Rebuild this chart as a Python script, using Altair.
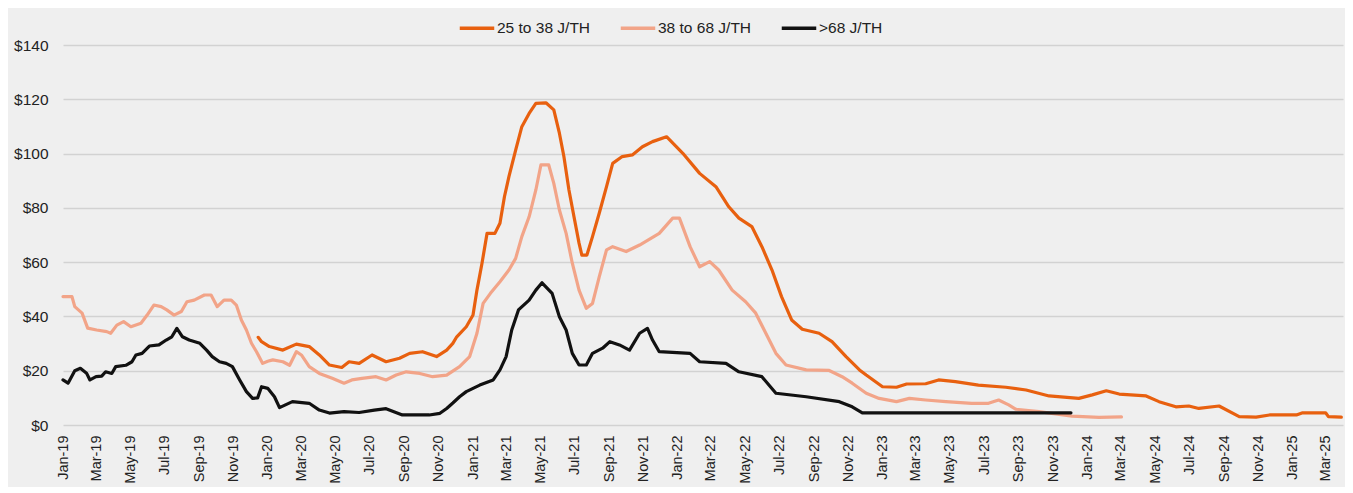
import altair as alt
import pandas as pd

series_names = ["25 to 38 J/TH", "38 to 68 J/TH", ">68 J/TH"]
series_colors = ["#E8600F", "#F2A488", "#111111"]

orange_dates = [
    "2019-12-15", "2019-12-21", "2020-01-04", "2020-01-28", "2020-02-21", "2020-03-15",
    "2020-04-02", "2020-04-20", "2020-05-12", "2020-05-25", "2020-06-12", "2020-07-05",
    "2020-07-30", "2020-08-23", "2020-09-10", "2020-10-03", "2020-10-28", "2020-11-15",
    "2020-11-26", "2020-12-03", "2020-12-20", "2021-01-01", "2021-01-08", "2021-01-17",
    "2021-01-26", "2021-02-09", "2021-02-18", "2021-02-26", "2021-03-06", "2021-03-18",
    "2021-03-29", "2021-04-11", "2021-04-23", "2021-05-11", "2021-05-25", "2021-06-04",
    "2021-06-12", "2021-06-21", "2021-06-30", "2021-07-09", "2021-07-14", "2021-07-23",
    "2021-08-02", "2021-08-14", "2021-08-27", "2021-09-07", "2021-09-24", "2021-10-12",
    "2021-10-30", "2021-11-17", "2021-12-12", "2022-01-10", "2022-02-09", "2022-03-10",
    "2022-04-02", "2022-04-20", "2022-05-13", "2022-05-31", "2022-06-18", "2022-07-05",
    "2022-07-23", "2022-08-11", "2022-09-10", "2022-10-03", "2022-10-28", "2022-11-21",
    "2022-12-03", "2023-01-01", "2023-01-26", "2023-02-13", "2023-03-19", "2023-04-11",
    "2023-05-11", "2023-06-21", "2023-08-09", "2023-09-14", "2023-10-25", "2023-12-17",
    "2024-01-10", "2024-02-04", "2024-02-27", "2024-04-15", "2024-05-08", "2024-06-07",
    "2024-06-30", "2024-07-18", "2024-08-23", "2024-09-28", "2024-10-28", "2024-11-21",
    "2025-01-08", "2025-01-19", "2025-03-01", "2025-03-06", "2025-03-29",
]
orange_values = [
    32.3, 30.7, 28.9, 27.6, 29.8, 28.9,
    25.8, 22.1, 21.2, 23.3, 22.7, 25.8,
    23.3, 24.6, 26.4, 27.0, 25.2, 27.6,
    30.1, 32.5, 36.2, 40.5, 49.7, 59.6,
    70.6, 70.6, 74.3, 84.1, 91.5, 101.3,
    109.9, 114.8, 118.5, 118.7, 116.1, 107.5,
    98.9, 86.6, 76.7, 67.0, 62.6, 62.6,
    69.4, 78.0, 87.8, 96.4, 98.9, 99.5,
    102.5, 104.4, 106.2, 100.1, 92.7, 87.8,
    80.4, 76.2, 73.1, 65.7, 57.1, 47.3,
    38.7, 35.3, 33.8, 30.7, 25.2, 20.3,
    18.4, 14.1, 13.9, 15.1, 15.2, 16.6,
    16.0, 14.7, 13.9, 12.9, 10.7, 9.8,
    11.1, 12.6, 11.4, 10.7, 8.6, 6.7,
    7.0, 6.1, 7.0, 3.1, 2.9, 3.7,
    3.7, 4.5, 4.5, 3.1, 2.9,
]

salmon_dates = [
    "2019-01-01", "2019-01-17", "2019-01-22", "2019-02-04", "2019-02-14", "2019-03-02",
    "2019-03-20", "2019-03-27", "2019-04-07", "2019-04-19", "2019-05-02", "2019-05-20",
    "2019-05-31", "2019-06-12", "2019-06-25", "2019-07-05", "2019-07-18", "2019-07-31",
    "2019-08-10", "2019-08-23", "2019-09-10", "2019-09-22", "2019-10-03", "2019-10-15",
    "2019-10-28", "2019-11-06", "2019-11-15", "2019-11-24", "2019-12-03", "2019-12-12",
    "2019-12-23", "2020-01-01", "2020-01-10", "2020-01-28", "2020-02-09", "2020-02-21",
    "2020-03-01", "2020-03-15", "2020-04-02", "2020-04-25", "2020-05-16", "2020-05-30",
    "2020-06-17", "2020-07-12", "2020-07-30", "2020-08-17", "2020-09-04", "2020-09-28",
    "2020-10-21", "2020-11-15", "2020-12-08", "2020-12-26", "2021-01-08", "2021-01-19",
    "2021-02-01", "2021-02-18", "2021-03-06", "2021-03-18", "2021-03-29", "2021-04-11",
    "2021-04-23", "2021-05-02", "2021-05-16", "2021-05-25", "2021-06-04", "2021-06-16",
    "2021-06-27", "2021-07-09", "2021-07-22", "2021-08-02", "2021-08-14", "2021-08-27",
    "2021-09-07", "2021-10-01", "2021-10-25", "2021-11-29", "2021-12-23", "2022-01-04",
    "2022-01-23", "2022-02-09", "2022-02-27", "2022-03-15", "2022-04-08", "2022-05-02",
    "2022-05-20", "2022-06-07", "2022-06-25", "2022-07-13", "2022-08-18", "2022-09-28",
    "2022-10-21", "2022-11-08", "2022-12-03", "2022-12-26", "2023-01-26", "2023-02-18",
    "2023-03-19", "2023-04-24", "2023-06-09", "2023-07-09", "2023-07-27", "2023-08-14",
    "2023-08-27", "2023-10-07", "2023-12-05", "2024-01-22", "2024-03-02",
]
salmon_values = [
    47.3, 47.3, 43.6, 41.2, 35.7, 35.0,
    34.4, 33.8, 36.8, 38.1, 36.2, 37.5,
    40.5, 44.2, 43.6, 42.4, 40.5, 41.8,
    45.4, 46.0, 47.9, 47.9, 43.6, 46.0,
    46.0, 44.2, 38.7, 35.0, 30.1, 27.0,
    22.7, 23.5, 24.0, 23.3, 22.0, 27.0,
    25.8, 21.5, 19.0, 17.2, 15.4, 16.6,
    17.2, 17.8, 16.6, 18.4, 19.6, 19.0,
    17.8, 18.4, 21.5, 25.2, 33.8, 44.8,
    48.5, 52.8, 57.1, 61.4, 69.4, 76.7,
    86.6, 95.8, 95.8, 89.0, 79.2, 70.6,
    59.6, 49.7, 43.0, 44.8, 54.6, 64.5,
    65.7, 63.9, 66.3, 70.6, 76.2, 76.2,
    65.7, 58.3, 60.2, 57.1, 49.7, 45.4,
    41.2, 33.8, 26.4, 22.1, 20.3, 20.1,
    17.8, 15.4, 11.7, 9.8, 8.6, 9.8,
    9.2, 8.6, 8.0, 8.0, 9.2, 7.4,
    5.8, 4.9, 3.3, 2.8, 3.0,
]

black_dates = [
    "2019-01-01", "2019-01-10", "2019-01-22", "2019-02-01", "2019-02-12", "2019-02-18",
    "2019-03-01", "2019-03-11", "2019-03-18", "2019-03-29", "2019-04-05", "2019-04-23",
    "2019-05-04", "2019-05-11", "2019-05-22", "2019-06-04", "2019-06-21", "2019-07-04",
    "2019-07-14", "2019-07-23", "2019-08-02", "2019-08-14", "2019-09-02", "2019-09-14",
    "2019-09-24", "2019-10-07", "2019-10-19", "2019-10-30", "2019-11-12", "2019-11-24",
    "2019-12-05", "2019-12-14", "2019-12-21", "2020-01-01", "2020-01-13", "2020-01-22",
    "2020-02-14", "2020-03-15", "2020-04-02", "2020-04-20", "2020-05-16", "2020-06-12",
    "2020-07-09", "2020-07-30", "2020-08-28", "2020-10-15", "2020-11-03", "2020-11-15",
    "2020-11-26", "2020-12-08", "2020-12-20", "2021-01-13", "2021-02-06", "2021-02-18",
    "2021-03-01", "2021-03-11", "2021-03-23", "2021-04-11", "2021-04-23", "2021-05-04",
    "2021-05-22", "2021-06-04", "2021-06-16", "2021-06-27", "2021-07-09", "2021-07-22",
    "2021-08-02", "2021-08-20", "2021-09-02", "2021-09-19", "2021-10-07", "2021-10-25",
    "2021-11-08", "2021-11-17", "2021-11-29", "2022-01-23", "2022-02-09", "2022-03-28",
    "2022-04-20", "2022-05-31", "2022-06-25", "2022-08-18", "2022-10-16", "2022-11-08",
    "2022-11-26", "2023-12-03",
]
black_values = [
    16.6, 15.4, 20.0, 20.9, 19.1, 16.6,
    17.8, 18.0, 19.6, 19.0, 21.5, 22.0,
    23.3, 25.8, 26.4, 29.1, 29.5, 31.3,
    32.5, 35.6, 32.5, 31.3, 30.1, 27.6,
    25.2, 23.3, 22.7, 21.5, 16.6, 12.3,
    9.8, 10.0, 14.1, 13.5, 10.4, 6.4,
    8.6, 8.0, 5.5, 4.4, 4.9, 4.6,
    5.5, 6.0, 3.7, 3.7, 4.3, 6.1,
    8.1, 10.4, 12.3, 14.7, 16.6, 20.3,
    25.2, 35.0, 42.4, 46.0, 49.7, 52.4,
    48.5, 39.9, 35.0, 26.4, 22.1, 22.1,
    26.4, 28.3, 30.7, 29.5, 27.6, 33.8,
    35.6, 31.3, 27.0, 26.4, 23.3, 22.7,
    19.6, 17.8, 11.7, 10.4, 8.6, 6.7,
    4.5, 4.5,
]

y_ticks = [0, 20, 40, 60, 80, 100, 120, 140]

frames = []
for name, dates, vals in [
    (series_names[0], orange_dates, orange_values),
    (series_names[1], salmon_dates, salmon_values),
    (series_names[2], black_dates, black_values),
]:
    frames.append(pd.DataFrame({"date": dates, "value": vals, "series": name}))
df = pd.concat(frames, ignore_index=True)

FONT = "Liberation Sans"

chart = (
    alt.Chart(df)
    .mark_line(strokeWidth=3.2, strokeJoin="round", strokeCap="round")
    .encode(
        x=alt.X(
            "date:T",
            scale=alt.Scale(
                type="utc",
                domain=[
                    alt.DateTime(year=2019, month=1, date=1, utc=True),
                    alt.DateTime(year=2025, month=4, date=1, utc=True),
                ],
            ),
            axis=alt.Axis(
                title=None,
                format="%b-%y",
                tickCount=alt.TickCount(interval="month", step=2),
                labelAngle=270,
                labelPadding=10,
                ticks=False,
                domain=False,
                grid=False,
                labelFontSize=14.5,
                labelColor="#222222",
                labelFont=FONT,
                labelOverlap=False,
                labelFlush=False,
            ),
        ),
        y=alt.Y(
            "value:Q",
            scale=alt.Scale(domain=[0, 140], nice=False),
            axis=alt.Axis(
                title=None,
                values=y_ticks,
                labelExpr="'$' + datum.value",
                ticks=False,
                domain=False,
                grid=True,
                gridColor="#d2d2d2",
                gridWidth=1.5,
                labelPadding=15,
                labelFontSize=15.5,
                labelColor="#222222",
                labelFont=FONT,
            ),
        ),
        color=alt.Color(
            "series:N",
            scale=alt.Scale(domain=series_names, range=series_colors),
            legend=alt.Legend(
                title=None,
                orient="none",
                legendX=395,
                legendY=-36,
                direction="horizontal",
                symbolType="stroke",
                symbolSize=1190,
                symbolStrokeWidth=3.5,
                labelFontSize=15.5,
                labelFont=FONT,
                labelColor="#222222",
                labelOffset=1,
                columnPadding=22,
            ),
        ),
        order=alt.Order("date:T"),
    )
    .properties(
        width=1280,
        height=380,
        background="#efefef",
        padding={"left": 55, "top": 37, "right": 2, "bottom": 62},
        autosize=alt.AutoSizeParams(type="none"),
    )
    .configure_view(stroke=None)
)

chart.save("out.html", embed_options={"renderer": "svg", "actions": False})
